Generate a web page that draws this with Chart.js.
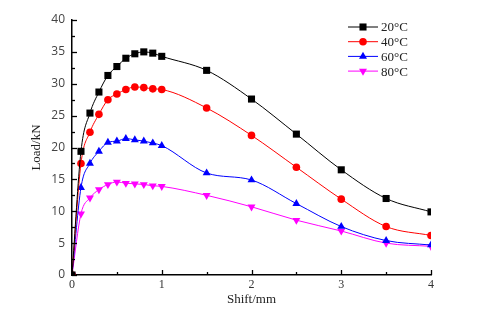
<!DOCTYPE html>
<html>
<head>
<meta charset="utf-8">
<script src="https://cdn.jsdelivr.net/npm/chart.js@4"></script>
<style>
  html, body { margin: 0; padding: 0; background: #fff; }
  #wrap { width: 480px; height: 315px; position: relative; }
</style>
</head>
<body>
<div id="wrap"><canvas id="chart"></canvas></div>
<script>
// data
const shift = [0, 0.1, 0.2, 0.3, 0.4, 0.5, 0.6, 0.7, 0.8, 0.9, 1.0, 1.5, 2.0, 2.5, 3.0, 3.5, 4.0];
const load20 = [0, 19.4, 25.4, 28.7, 31.3, 32.7, 34.0, 34.7, 35.0, 34.8, 34.3, 32.1, 27.6, 22.1, 16.5, 12.0, 9.9];
const load40 = [0, 17.5, 22.4, 25.2, 27.5, 28.4, 29.1, 29.5, 29.4, 29.2, 29.1, 26.2, 21.9, 16.9, 11.9, 7.6, 6.2];
const load60 = [0, 13.7, 17.5, 19.4, 20.8, 21.0, 21.4, 21.2, 21.0, 20.7, 20.3, 16.0, 14.9, 11.2, 7.6, 5.4, 4.7];
const load80 = [0, 9.6, 12.1, 13.4, 14.2, 14.6, 14.4, 14.3, 14.2, 14.0, 13.9, 12.5, 10.7, 8.6, 6.9, 5.0, 4.5];
const labels = ['20°C', '40°C', '60°C', '80°C'];
const xTicks = [0, 1, 2, 3, 4];
const yTicks = [0, 5, 10, 15, 20, 25, 30, 35, 40];

const colors = ['#000000', '#ff0000', '#0000ff', '#ff00ff'];
const markers = ['rect', 'circle', 'triangle', 'triangle'];
const rotations = [0, 0, 0, 180];
const sizes = [5, 3.8, 4.6, 4.6];
const series = [load20, load40, load60, load80];

function makeSet(i) {
  return {
    label: labels[i],
    data: shift.map((x, k) => ({ x: x, y: series[i][k] })),
    borderColor: colors[i],
    backgroundColor: colors[i],
    pointBackgroundColor: colors[i],
    borderWidth: 1,
    pointStyle: markers[i],
    pointRotation: rotations[i],
    pointRadius: sizes[i],
    pointBorderWidth: 0,
    cubicInterpolationMode: 'monotone'
  };
}

// inward ticks and legend with line through marker
const extras = {
  id: 'extras',
  afterDraw(chart) {
    const ctx = chart.ctx;
    const xs = chart.scales.x, ys = chart.scales.y;
    const area = chart.chartArea;
    ctx.save();
    ctx.strokeStyle = '#000';
    ctx.lineWidth = 1.3;
    for (let v = 0; v <= 4.001; v += 0.5) {
      const px = Math.round(xs.getPixelForValue(v)) + 0.5;
      const len = Math.abs(v - Math.round(v)) < 0.01 ? 5 : 3;
      ctx.beginPath();
      ctx.moveTo(px, area.bottom);
      ctx.lineTo(px, area.bottom - len);
      ctx.stroke();
    }
    for (let v = 0; v <= 40.001; v += 2.5) {
      const py = Math.round(ys.getPixelForValue(v)) + 0.5;
      const len = (v % 5) === 0 ? 5 : 3;
      ctx.beginPath();
      ctx.moveTo(area.left, py);
      ctx.lineTo(area.left + len, py);
      ctx.stroke();
    }
    // legend
    ctx.font = '13px "Liberation Serif"';
    ctx.textBaseline = 'middle';
    chart.data.datasets.forEach((ds, i) => {
      const y = 27 + i * 14.7;
      ctx.strokeStyle = ds.borderColor;
      ctx.lineWidth = 1;
      ctx.beginPath();
      ctx.moveTo(348, y);
      ctx.lineTo(378, y);
      ctx.stroke();
      ctx.fillStyle = ds.borderColor;
      Chart.helpers.drawPoint(ctx, {
        pointStyle: ds.pointStyle,
        rotation: ds.pointRotation,
        radius: ds.pointRadius,
        borderWidth: 0
      }, 363, y);
      ctx.fillStyle = '#222';
      ctx.fillText(ds.label, 381, y + 1);
    });
    ctx.restore();
  }
};

const chart = new Chart(document.getElementById('chart'), {
  type: 'line',
  data: { datasets: [0, 1, 2, 3].map(makeSet) },
  options: {
    responsive: true,
    maintainAspectRatio: false,
    animation: false,
    layout: { padding: { left: 0, right: 49, top: 20, bottom: 0 } },
    plugins: { legend: { display: false }, tooltip: { enabled: false } },
    scales: {
      x: {
        type: 'linear',
        min: 0, max: 4,
        afterBuildTicks: s => { s.ticks = xTicks.map(v => ({ value: v })); },
        afterFit: s => { s.height = 40; },
        grid: { display: false, drawTicks: false },
        border: { display: true, color: '#000', width: 1.5 },
        ticks: { color: '#333', padding: 3, font: { family: 'Liberation Serif', size: 12 } },
        title: { display: true, text: 'Shift/mm', color: '#222', padding: { top: 0, bottom: 8 }, font: { family: 'Liberation Serif', size: 13 } }
      },
      y: {
        type: 'linear',
        min: 0, max: 40,
        afterBuildTicks: s => { s.ticks = yTicks.map(v => ({ value: v })); },
        afterFit: s => { s.width = 72; },
        grid: { display: false, drawTicks: false },
        border: { display: true, color: '#000', width: 1.5 },
        ticks: { color: '#444', padding: 7, font: { family: 'Open Sans', size: 12 } },
        title: { display: true, text: 'Load/kN', color: '#222', padding: { top: 29, bottom: 0 }, font: { family: 'Liberation Serif', size: 13 } }
      }
    }
  },
  plugins: [extras]
});
</script>
</body>
</html>
